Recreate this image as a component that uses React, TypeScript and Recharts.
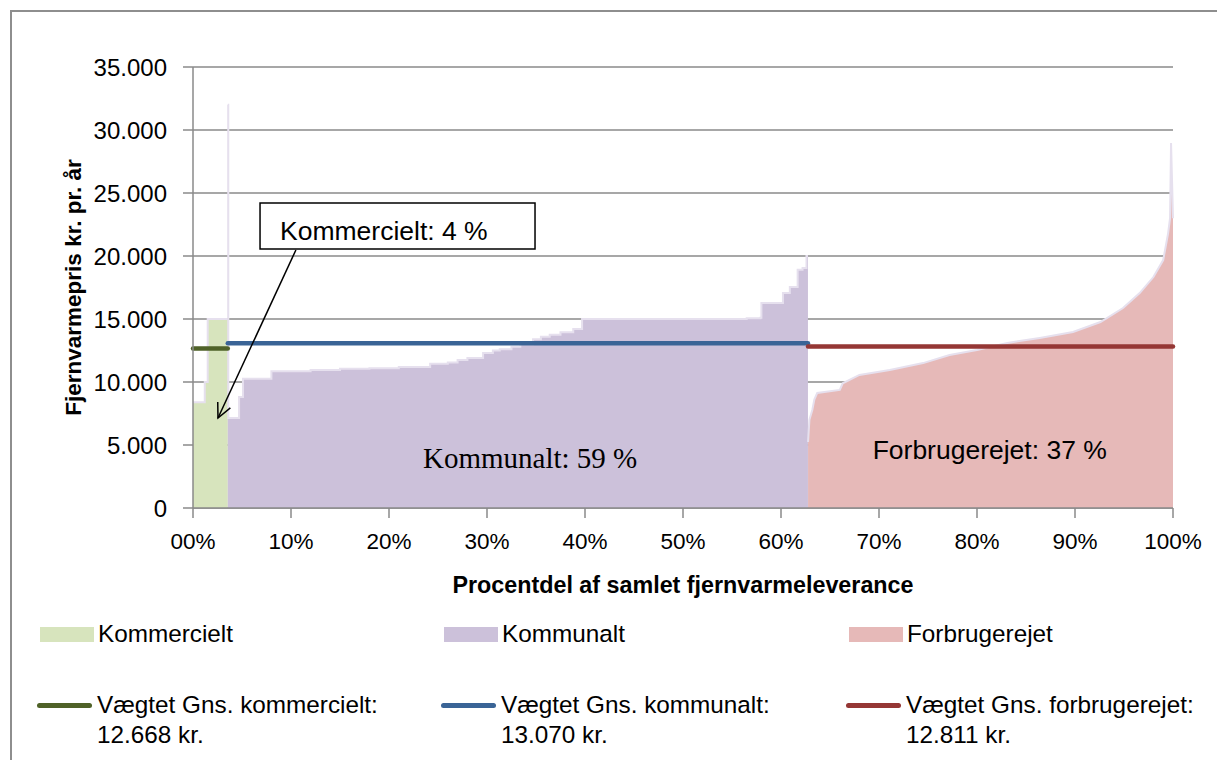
import {
  ComposedChart,
  Area,
  Line,
  XAxis,
  YAxis,
  CartesianGrid,
  ReferenceArea,
  ReferenceLine,
  ReferenceDot,
} from "recharts"

// andel af samlet fjernvarmeleverance (%) og pris (kr. pr. år)
const kommercieltX = [0, 1.2, 1.5, 3.55]
const kommercieltPris = [8400, 10000, 15000, 15000]

const kommunaltX = [
  3.55, 3.6, 4.7, 5.1, 8.0, 12, 15, 18, 21, 24.2, 26, 27, 28, 29.6, 30.6, 31.3, 32.5, 33.4, 34.7, 35.5,
  36.4, 37.5, 38.8, 39.7, 45, 50, 55.1, 56.5, 57.9, 58.0, 60.2, 60.9, 61.7, 62.2, 62.6, 62.75,
]
const kommunaltPris = [
  32000, 7150, 8800, 10250, 10850, 10950, 11050, 11100, 11200, 11450, 11550, 11750, 11900, 12300, 12500,
  12600, 12800, 13000, 13400, 13600, 13750, 13950, 14200, 15000, 15000, 15000, 15000, 15050, 15100, 16270,
  17060, 17540, 18900, 19050, 20000, 20000,
]

const forbrugerejetX = [
  62.76, 62.9, 63.2, 63.4, 63.7, 66, 66.3, 68, 71.1, 74.5, 77.2, 80, 83.1, 86.4, 89.8, 92.6, 94.9, 96.6,
  98, 99, 99.5, 99.7, 99.8, 99.9, 100,
]
const forbrugerejetPris = [
  5240, 7000, 7800, 8600, 9130, 9370, 9900, 10560, 10950, 11500, 12140, 12540, 13100, 13500, 13970, 14760,
  15870, 17060, 18330, 19680, 21800, 23000, 28970, 26000, 23000,
]

const seriesNames = ["Kommercielt", "Kommunalt", "Forbrugerejet"]
const vaegtetGns = [12668, 13070, 12811]
const gnsNames = ["Vægtet Gns. kommercielt:", "Vægtet Gns. kommunalt:", "Vægtet Gns. forbrugerejet:"]

const xTicks = [0, 10, 20, 30, 40, 50, 60, 70, 80, 90, 100]
const yTicks = [0, 5000, 10000, 15000, 20000, 25000, 30000, 35000]

const fills = ["#D7E4BD", "#CCC1DA", "#E6B9B8"]
const avgColors = ["#4F6228", "#3A6496", "#953735"]
const curveTypes = ["stepAfter", "stepAfter", "linear"] as const
const FONT = "'Liberation Sans', Arial, sans-serif"

const fmt = (v: number) => String(v).replace(/\B(?=(\d{3})+(?!\d))/g, ".")

const segments = [
  { xs: kommercieltX, ys: kommercieltPris, key: "kom", avg: "komAvg" },
  { xs: kommunaltX, ys: kommunaltPris, key: "mun", avg: "munAvg" },
  { xs: forbrugerejetX, ys: forbrugerejetPris, key: "for", avg: "forAvg" },
]

const rows: Record<string, number>[] = []
segments.forEach((s, i) => {
  s.xs.forEach((x, j) => {
    rows.push({ x, [s.key]: s.ys[j], [s.avg]: vaegtetGns[i] })
  })
})

function Arrow(props: any) {
  const { x1, y1, x2, y2 } = props
  if (x1 == null || x2 == null) return null
  const ang = Math.atan2(y2 - y1, x2 - x1)
  const len = 16
  const a1 = ang + Math.PI - 0.45
  const a2 = ang + Math.PI + 0.45
  return (
    <g stroke="#000" strokeWidth={1.5} fill="none">
      <line x1={x1} y1={y1} x2={x2} y2={y2} />
      <polyline
        points={`${x2 + len * Math.cos(a1)},${y2 + len * Math.sin(a1)} ${x2},${y2} ${x2 + len * Math.cos(a2)},${y2 + len * Math.sin(a2)}`}
      />
    </g>
  )
}

function LegendBlock() {
  const cols = [37, 441, 846]
  return (
    <>
      {seriesNames.map((n, i) => (
        <div key={n} style={{ position: "absolute", left: cols[i] - 8, top: 612, display: "flex", alignItems: "center" }}>
          <div style={{ width: 54, height: 15, background: fills[i], marginLeft: 3 }} />
          <span style={{ fontFamily: FONT, fontSize: 24.3, marginLeft: 4 }}>{n}</span>
        </div>
      ))}
      {gnsNames.map((n, i) => (
        <div key={n} style={{ position: "absolute", left: cols[i] - 8, top: 682 }}>
          <div style={{ display: "flex", alignItems: "center" }}>
            <div style={{ width: 55, height: 5, borderRadius: 3, background: avgColors[i] }} />
            <span style={{ fontFamily: FONT, fontSize: 24.3, marginLeft: 5, lineHeight: "30px" }}>{n}</span>
          </div>
          <div style={{ fontFamily: FONT, fontSize: 24.3, marginLeft: 60, lineHeight: "30px" }}>
            {fmt(vaegtetGns[i])} kr.
          </div>
        </div>
      ))}
    </>
  )
}

export default function App() {
  return (
    <div style={{ position: "relative", width: 1217, height: 752, overflow: "hidden", background: "#fff" }}>
      <div
        style={{
          position: "absolute",
          left: 2,
          top: 2,
          width: 1400,
          height: 900,
          borderLeft: "2px solid #8E8E8E",
          borderTop: "2px solid #8E8E8E",
        }}
      />
      <div style={{ position: "absolute", left: 0, top: 0 }}>
        <ComposedChart width={1217} height={752} data={rows} margin={{ top: 59, right: 52, left: 55, bottom: 192 }}>
          <CartesianGrid vertical={false} stroke="#8A8A8A" strokeWidth={1.5} />
          <XAxis
            type="number"
            dataKey="x"
            domain={[0, 100]}
            ticks={xTicks}
            tickFormatter={(v: number) => (v === 0 ? "00%" : `${v}%`)}
            height={60}
            tickSize={10}
            tickMargin={15}
            stroke="#8A8A8A"
            strokeWidth={1.5}
            tick={{ fill: "#000", fontSize: 22.5, fontFamily: FONT }}
            label={{
              value: "Procentdel af samlet fjernvarmeleverance",
              position: "bottom",
              offset: 8,
              fill: "#000",
              fontSize: 23.3,
              fontWeight: "bold",
              fontFamily: FONT,
            }}
          />
          <YAxis
            type="number"
            domain={[0, 35000]}
            ticks={yTicks}
            tickFormatter={fmt}
            width={130}
            tickSize={10}
            tickMargin={16}
            stroke="#8A8A8A"
            strokeWidth={1.5}
            tick={{ fill: "#000", fontSize: 24, fontFamily: FONT }}
            label={{
              value: "Fjernvarmepris kr. pr. år",
              angle: -90,
              position: "insideLeft",
              offset: 10,
              fill: "#000",
              fontSize: 22.5,
              fontWeight: "bold",
              fontFamily: FONT,
              style: { textAnchor: "middle" },
            }}
          />
          {segments.map((s, i) => (
            <Area
              key={s.key}
              dataKey={s.key}
              name={seriesNames[i]}
              type={curveTypes[i]}
              fill={fills[i]}
              fillOpacity={1}
              stroke="#E6E0EE"
              strokeWidth={2}
              dot={false}
              activeDot={false}
              isAnimationActive={false}
            />
          ))}
          {segments.map((s, i) => (
            <Line
              key={s.avg}
              dataKey={s.avg}
              name={gnsNames[i]}
              type="linear"
              stroke={avgColors[i]}
              strokeWidth={4.5}
              strokeLinecap="round"
              dot={false}
              activeDot={false}
              isAnimationActive={false}
            />
          ))}
          <ReferenceArea
            x1={6.84}
            x2={34.9}
            y1={20560}
            y2={24200}
            fill="#fff"
            fillOpacity={1}
            stroke="#000"
            strokeWidth={1.5}
            ifOverflow="visible"
            label={{ value: "Kommercielt: 4 %", position: "insideLeft", offset: 20, dy: 5, fill: "#000", fontSize: 26.5, fontFamily: FONT }}
          />
          <ReferenceLine
            segment={[
              { x: 10.5, y: 20480 },
              { x: 2.55, y: 7140 },
            ]}
            ifOverflow="visible"
            shape={Arrow}
          />
          <ReferenceDot
            x={34.4}
            y={3990}
            r={0}
            fill="none"
            stroke="none"
            label={{ value: "Kommunalt: 59 %", position: "center", fill: "#000", fontSize: 29, fontFamily: "'Liberation Serif', 'Times New Roman', serif" }}
          />
          <ReferenceDot
            x={81.3}
            y={4630}
            r={0}
            fill="none"
            stroke="none"
            label={{ value: "Forbrugerejet: 37 %", position: "center", fill: "#000", fontSize: 26.5, fontFamily: FONT }}
          />
        </ComposedChart>
      </div>
      <LegendBlock />
    </div>
  )
}
